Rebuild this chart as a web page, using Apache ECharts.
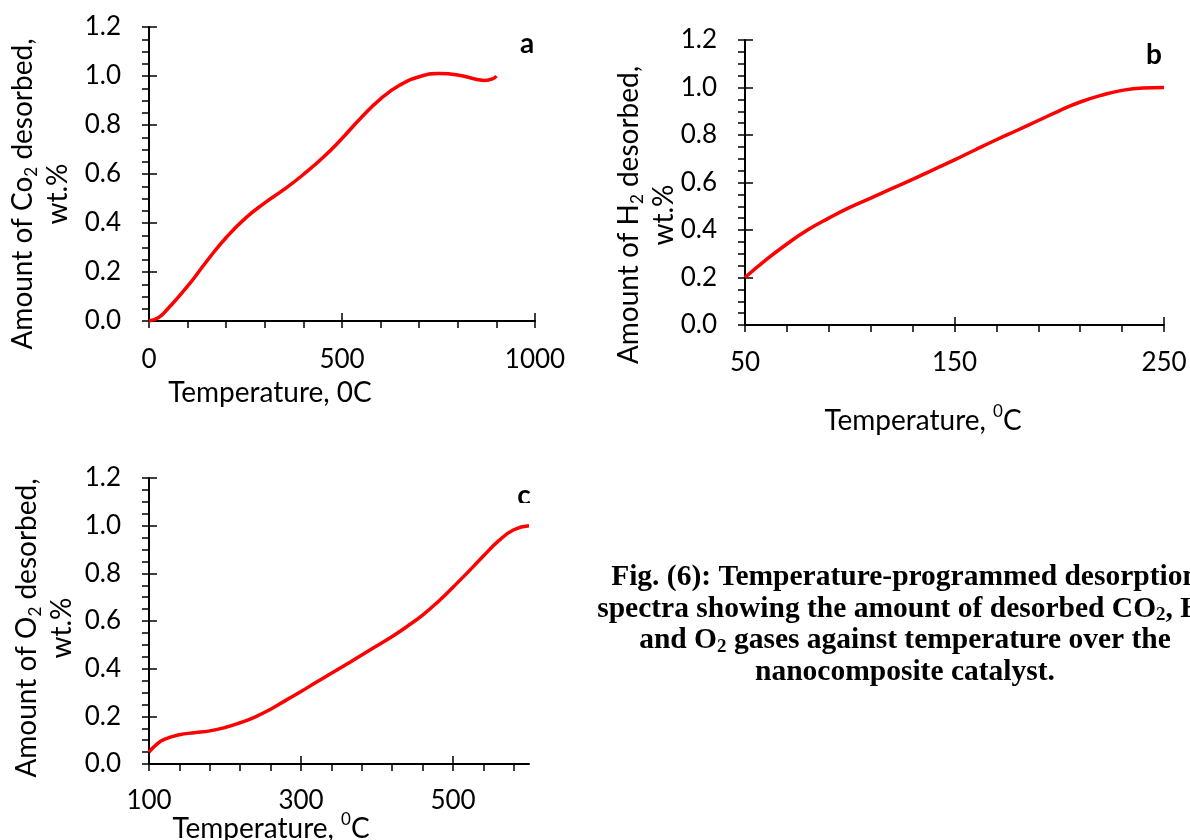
<!DOCTYPE html>
<html>
<head>
<meta charset="utf-8">
<script src="https://cdn.jsdelivr.net/npm/echarts@6/dist/echarts.min.js"></script>
<style>
  html, body { margin: 0; padding: 0; background: #fff; }
  #chart { width: 1190px; height: 840px; }
</style>
</head>
<body>
<div id="chart"></div>
<script>
// a: CO2 desorbed vs temperature
var tempA = [0, 25, 50, 100, 150, 200, 250, 300, 350, 400, 450, 500, 550, 600, 650, 700, 750, 800, 850, 870, 890, 900];
var amountA = [0, 0.014, 0.052, 0.142, 0.245, 0.341, 0.420, 0.482, 0.537, 0.598, 0.666, 0.745, 0.831, 0.907, 0.963, 0.997, 1.010, 1.004, 0.986, 0.982, 0.988, 1.0];

// b: H2 desorbed vs temperature
var tempB = [50, 60, 70, 80, 90, 100, 110, 120, 130, 140, 150, 160, 170, 180, 190, 200, 210, 220, 230, 240, 250];
var amountB = [0.2, 0.274, 0.341, 0.401, 0.45, 0.495, 0.534, 0.574, 0.613, 0.654, 0.695, 0.738, 0.780, 0.820, 0.861, 0.902, 0.939, 0.967, 0.988, 0.998, 1.0];

// c: O2 desorbed vs temperature
var tempC = [100, 110, 120, 140, 160, 180, 200, 220, 240, 260, 280, 300, 320, 340, 360, 380, 400, 420, 440, 460, 480, 500, 520, 540, 560, 580, 600];
var amountC = [0.05, 0.082, 0.103, 0.123, 0.131, 0.139, 0.153, 0.173, 0.198, 0.230, 0.267, 0.304, 0.343, 0.381, 0.419, 0.457, 0.496, 0.535, 0.578, 0.625, 0.680, 0.742, 0.806, 0.873, 0.936, 0.983, 1.0];

// axis ticks
var xLabelsA = [0, 500, 1000];
var xTicksA = [0, 100, 200, 300, 400, 500, 600, 700, 800, 900, 1000];
var xLabelsB = [50, 150, 250];
var xTicksB = [50, 70, 90, 110, 130, 150, 170, 190, 210, 230, 250];
var xLabelsC = [100, 300, 500];
var xTicksC = [100, 140, 180, 220, 260, 300, 340, 380, 420, 460, 500, 540, 580];
var yLabels = [0, 0.2, 0.4, 0.6, 0.8, 1.0, 1.2];
var yTicks = [0, 0.05, 0.1, 0.15, 0.2, 0.25, 0.3, 0.35, 0.4, 0.45, 0.5, 0.55, 0.6,
  0.65, 0.7, 0.75, 0.8, 0.85, 0.9, 0.95, 1.0, 1.05, 1.1, 1.15, 1.2];

var FONT = "Lato";
var black = "#000";

function pairs(xs, ys) {
  return xs.map(function (x, i) { return [x, ys[i]]; });
}

// outer axis: line, labels and all ticks pointing out
function xOuter(grid, min, max, labels, ticks, margin) {
  return {
    type: "value", gridIndex: grid, position: "bottom", min: min, max: max,
    axisLine: { onZero: false, lineStyle: { color: black, width: 2 } },
    axisTick: { show: true, inside: false, length: 7, customValues: ticks, lineStyle: { color: black, width: 1.5 } },
    axisLabel: {
      customValues: labels, margin: margin, color: black, fontFamily: FONT, fontSize: 26,
      formatter: function (v) { return String(v); }
    },
    splitLine: { show: false }
  };
}
// inner axis: only the inward half of the major ticks
function xInner(grid, min, max, labels) {
  return {
    type: "value", gridIndex: grid, position: "bottom", min: min, max: max,
    axisLine: { show: false, onZero: false },
    axisTick: { show: true, inside: true, length: 8, customValues: labels, lineStyle: { color: black, width: 1.5 } },
    axisLabel: { show: false, customValues: labels },
    splitLine: { show: false }
  };
}
function yOuter(grid) {
  return {
    type: "value", gridIndex: grid, position: "left", min: 0, max: 1.2,
    axisLine: { show: true, onZero: false, lineStyle: { color: black, width: 2 } },
    axisTick: { show: true, inside: false, length: 7, customValues: yTicks, lineStyle: { color: black, width: 1.5 } },
    axisLabel: {
      customValues: yLabels, margin: 28, color: black, fontFamily: FONT, fontSize: 26,
      formatter: function (v) { return v.toFixed(1); }
    },
    splitLine: { show: false }
  };
}
function yInner(grid) {
  return {
    type: "value", gridIndex: grid, position: "left", min: 0, max: 1.2,
    axisLine: { show: false, onZero: false },
    axisTick: { show: true, inside: true, length: 8, customValues: yLabels, lineStyle: { color: black, width: 1.5 } },
    axisLabel: { show: false, customValues: yLabels },
    splitLine: { show: false }
  };
}

function redLine(grid, data) {
  return {
    type: "line", xAxisIndex: grid, yAxisIndex: grid, data: data,
    smooth: 0.5, showSymbol: false, silent: true,
    lineStyle: { color: "#ff0000", width: 3.5 }
  };
}

// rich text pieces for titles
var titleRich = {
  n: { fontFamily: FONT, fontSize: 28, lineHeight: 35, fill: black, align: "center" },
  sub: { fontFamily: FONT, fontSize: 17, lineHeight: 20, fill: black, verticalAlign: "bottom", align: "center" },
  sup: { fontFamily: FONT, fontSize: 17, lineHeight: 22, fill: black, verticalAlign: "top", align: "center" }
};
var capRich = {
  n: { fontFamily: "Liberation Serif", fontWeight: "bold", fontSize: 29.5, lineHeight: 31.5, fill: black, align: "center" },
  sub: { fontFamily: "Liberation Serif", fontWeight: "bold", fontSize: 19, lineHeight: 20, fill: black, verticalAlign: "bottom", align: "center" }
};

function label(x, y, text, rot, rich) {
  return {
    type: "text", x: x, y: y, rotation: rot || 0, z: 5,
    style: { text: text, rich: rich || titleRich, align: "center", verticalAlign: "middle", fill: black }
  };
}
function letter(x, y, text) {
  return {
    type: "text", x: x, y: y, z: 5,
    style: { text: text, fontFamily: FONT, fontWeight: "bold", fontSize: 28, fill: black, align: "center", verticalAlign: "middle" }
  };
}

var chart = echarts.init(document.getElementById("chart"));
chart.setOption({
  animation: false,
  backgroundColor: "#fff",
  grid: [
    { left: 149, top: 27, width: 386, height: 294, outerBoundsMode: "none" },
    { left: 745, top: 40, width: 419, height: 285, outerBoundsMode: "none" },
    { left: 149, top: 478, width: 380, height: 286, outerBoundsMode: "none" }
  ],
  xAxis: [
    xOuter(0, 0, 1000, xLabelsA, xTicksA, 26),
    xOuter(1, 50, 250, xLabelsB, xTicksB, 25),
    xOuter(2, 100, 600, xLabelsC, xTicksC, 24),
    xInner(0, 0, 1000, xLabelsA),
    xInner(1, 50, 250, xLabelsB),
    xInner(2, 100, 600, xLabelsC)
  ],
  yAxis: [yOuter(0), yOuter(1), yOuter(2), yInner(0), yInner(1), yInner(2)],
  series: [
    redLine(0, pairs(tempA, amountA)),
    redLine(1, pairs(tempB, amountB)),
    redLine(2, pairs(tempC, amountC))
  ],
  graphic: [
    label(40, 194, "{n|Amount of Co}{sub|2}{n| desorbed,}\n{n|wt.%}", Math.PI / 2),
    label(646, 215, "{n|Amount of H}{sub|2}{n| desorbed,}\n{n|wt.%}", Math.PI / 2),
    label(44, 628, "{n|Amount of O}{sub|2}{n| desorbed,}\n{n|wt.%}", Math.PI / 2),
    label(270, 393, "{n|Temperature, 0C}"),
    label(923, 421, "{n|Temperature, }{sup|0}{n|C}"),
    label(271, 829, "{n|Temperature, }{sup|0}{n|C}"),
    letter(527, 44, "a"),
    letter(1154, 55, "b"),
    letter(524, 496, "c"),
    { type: "rect", z: 6, shape: { x: 508, y: 503, width: 34, height: 16 }, style: { fill: "#fff" } },
    label(905, 625,
      "{n|Fig. (6): Temperature-programmed desorption}\n" +
      "{n|spectra showing the amount of desorbed CO}{sub|2}{n|, H}{sub|2}\n" +
      "{n|and O}{sub|2}{n| gases against temperature over the}\n" +
      "{n|nanocomposite catalyst.}", 0, capRich)
  ]
});
</script>
</body>
</html>
